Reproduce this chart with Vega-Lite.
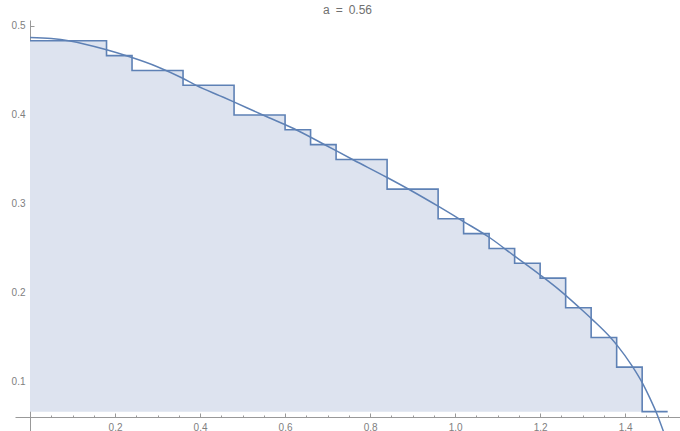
{
  "$schema": "https://vega.github.io/schema/vega-lite/v6.json",
  "width": 665,
  "height": 411,
  "autosize": "none",
  "padding": {"left": 15, "top": 20, "right": 0, "bottom": 0},
  "background": "white",
  "title": {"text": "a\u2002=\u20020.56", "fontSize": 12, "font": "Liberation Sans", "fontWeight": "normal", "color": "#707070", "anchor": "middle", "offset": 3},
  "config": {"view": {"stroke": null}, "axis": {"grid": false, "title": null, "labelFont": "Liberation Sans", "labelFontSize": 10, "labelColor": "#808080", "domainColor": "#999999", "tickColor": "#999999", "zindex": 1}},
  "datasets": {
    "steps": [
      {"x": 0, "y": 0.48333},
      {"x": 0.18, "y": 0.46667},
      {"x": 0.24, "y": 0.45},
      {"x": 0.36, "y": 0.43333},
      {"x": 0.48, "y": 0.4},
      {"x": 0.60, "y": 0.38333},
      {"x": 0.66, "y": 0.36667},
      {"x": 0.72, "y": 0.35},
      {"x": 0.84, "y": 0.31667},
      {"x": 0.96, "y": 0.28333},
      {"x": 1.02, "y": 0.26667},
      {"x": 1.08, "y": 0.25},
      {"x": 1.14, "y": 0.23333},
      {"x": 1.20, "y": 0.21667},
      {"x": 1.26, "y": 0.18333},
      {"x": 1.32, "y": 0.15},
      {"x": 1.38, "y": 0.11667},
      {"x": 1.44, "y": 0.06667},
      {"x": 1.50, "y": 0.06667}
    ],
    "curve": [
      {"x": 0, "y": 0.487},
      {"x": 0.05, "y": 0.4858},
      {"x": 0.094, "y": 0.4831},
      {"x": 0.178, "y": 0.4735},
      {"x": 0.238, "y": 0.4648},
      {"x": 0.298, "y": 0.4545},
      {"x": 0.358, "y": 0.4415},
      {"x": 0.392, "y": 0.433},
      {"x": 0.447, "y": 0.4215},
      {"x": 0.478, "y": 0.415},
      {"x": 0.545, "y": 0.4005},
      {"x": 0.598, "y": 0.3895},
      {"x": 0.627, "y": 0.3831},
      {"x": 0.69, "y": 0.3674},
      {"x": 0.761, "y": 0.3494},
      {"x": 0.839, "y": 0.33},
      {"x": 0.894, "y": 0.3157},
      {"x": 0.96, "y": 0.2975},
      {"x": 1.019, "y": 0.2805},
      {"x": 1.08, "y": 0.2626},
      {"x": 1.141, "y": 0.241},
      {"x": 1.2, "y": 0.2202},
      {"x": 1.247, "y": 0.2026},
      {"x": 1.294, "y": 0.1828},
      {"x": 1.322, "y": 0.1705},
      {"x": 1.365, "y": 0.1502},
      {"x": 1.383, "y": 0.14},
      {"x": 1.415, "y": 0.119},
      {"x": 1.441, "y": 0.0985},
      {"x": 1.459, "y": 0.081},
      {"x": 1.474, "y": 0.0649},
      {"x": 1.49, "y": 0.0445}
    ]
  },
  "layer": [
    {
      "data": {"name": "steps"},
      "mark": {"type": "area", "interpolate": "step-after", "fill": "#dde3ef"},
      "encoding": {
        "x": {"field": "x", "type": "quantitative", "scale": {"domain": [-0.0353, 1.529], "nice": false, "zero": false},
              "axis": {"orient": "bottom", "offset": -14, "values": [0.05,0.1,0.15,0.25,0.3,0.35,0.45,0.5,0.55,0.65,0.7,0.75,0.85,0.9,0.95,1.05,1.1,1.15,1.25,1.3,1.35,1.45,1.5], "labels": false, "domain": false, "tickSize": -2}},
        "y": {"field": "y", "type": "quantitative", "scale": {"domain": [0.0449, 0.5067], "nice": false, "zero": false},
              "axis": {"orient": "left", "offset": -15, "values": [0.08,0.12,0.14,0.16,0.18,0.22,0.24,0.26,0.28,0.32,0.34,0.36,0.38,0.42,0.44,0.46,0.48], "labels": false, "domain": false, "tickSize": -2}},
        "y2": {"datum": 0.06667}
      }
    },
    {
      "data": {"name": "steps"},
      "mark": {"type": "line", "interpolate": "step-after", "color": "#5E81B5", "strokeWidth": 1.6},
      "encoding": {
        "x": {"field": "x", "type": "quantitative",
              "axis": {"orient": "bottom", "offset": -14, "values": [0.2,0.4,0.6,0.8,1.0,1.2,1.4], "format": ".1f", "tickSize": -4, "labelPadding": 9}},
        "y": {"field": "y", "type": "quantitative",
              "axis": {"orient": "left", "offset": -15, "values": [0.1,0.2,0.3,0.4,0.5], "format": ".1f", "tickSize": -4, "labelPadding": 9}}
      }
    },
    {
      "data": {"name": "curve"},
      "mark": {"type": "line", "interpolate": "monotone", "color": "#5E81B5", "strokeWidth": 1.5},
      "encoding": {
        "x": {"field": "x", "type": "quantitative", "axis": null},
        "y": {"field": "y", "type": "quantitative", "axis": null}
      }
    }
  ],
  "resolve": {"axis": {"x": "independent", "y": "independent"}}
}
